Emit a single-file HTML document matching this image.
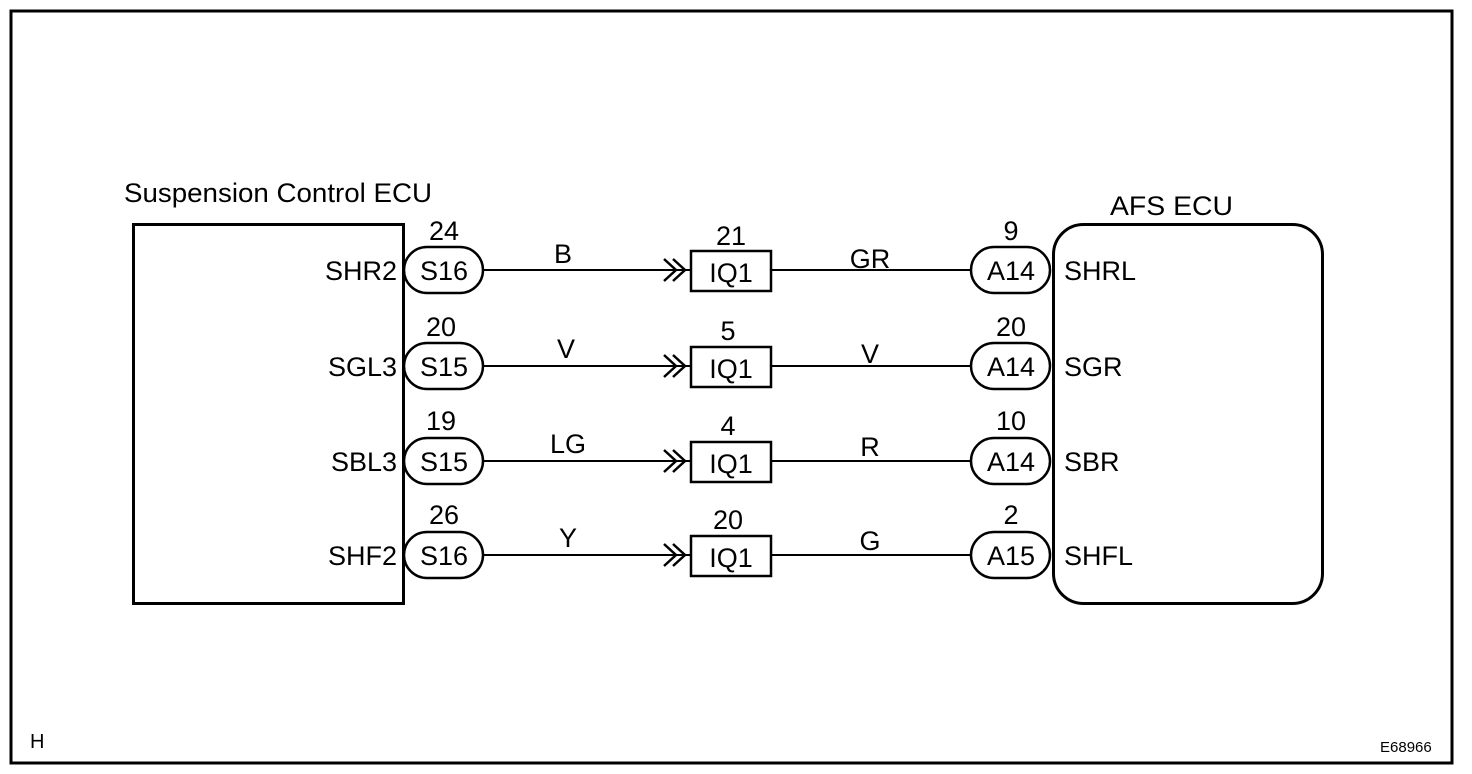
<!DOCTYPE html>
<html><head><style>body{margin:0;background:#fff}svg{display:block}text{font-family:"Liberation Sans",Arial,sans-serif;fill:#000}</style></head>
<body>
<svg width="1472" height="774" viewBox="0 0 1472 774" xmlns="http://www.w3.org/2000/svg">
<rect x="11" y="11" width="1441" height="752" fill="none" stroke="#000" stroke-width="3"/>
<text x="124" y="202" font-size="27" textLength="308" lengthAdjust="spacingAndGlyphs">Suspension Control ECU</text>
<text x="1110" y="215" font-size="27" textLength="123" lengthAdjust="spacingAndGlyphs">AFS ECU</text>
<rect x="133.5" y="224.5" width="270" height="379" fill="none" stroke="#000" stroke-width="3"/>
<rect x="1053.5" y="224.5" width="269" height="379" rx="30" fill="none" stroke="#000" stroke-width="3"/>
<g stroke="#000" fill="none" stroke-width="2">
<path d="M483 270H690M483 366H690M483 461H690M483 555H690"/>
<path d="M771 270H972M771 366H972M771 461H972M771 555H972"/>
<path stroke-width="2.5" d="M664 259l12 11l-12 11M673 259l12 11l-12 11M664 355l12 11l-12 11M673 355l12 11l-12 11M664 450l12 11l-12 11M673 450l12 11l-12 11M664 544l12 11l-12 11M673 544l12 11l-12 11"/>
</g>
<g stroke="#000" fill="#fff" stroke-width="2.5">
<rect x="404" y="247" width="79" height="46" rx="23"/>
<rect x="404" y="343" width="79" height="46" rx="23"/>
<rect x="404" y="438" width="79" height="46" rx="23"/>
<rect x="404" y="532" width="79" height="46" rx="23"/>
<rect x="971" y="247" width="79" height="46" rx="23"/>
<rect x="971" y="343" width="79" height="46" rx="23"/>
<rect x="971" y="438" width="79" height="46" rx="23"/>
<rect x="971" y="532" width="79" height="46" rx="23"/>
<rect x="691" y="251" width="80" height="40"/>
<rect x="691" y="347" width="80" height="40"/>
<rect x="691" y="442" width="80" height="40"/>
<rect x="691" y="536" width="80" height="40"/>
</g>
<g font-size="27" text-anchor="middle">
<text x="444" y="280">S16</text><text x="444" y="376">S15</text><text x="444" y="471">S15</text><text x="444" y="565">S16</text>
<text x="1011" y="280">A14</text><text x="1011" y="376">A14</text><text x="1011" y="471">A14</text><text x="1011" y="565">A15</text>
<text x="731" y="282">IQ1</text><text x="731" y="378">IQ1</text><text x="731" y="473">IQ1</text><text x="731" y="567">IQ1</text>
<text x="444" y="240">24</text><text x="441" y="336">20</text><text x="441" y="430">19</text><text x="444" y="524">26</text>
<text x="1011" y="240">9</text><text x="1011" y="336">20</text><text x="1011" y="430">10</text><text x="1011" y="524">2</text>
<text x="731" y="245">21</text><text x="728" y="340">5</text><text x="728" y="435">4</text><text x="728" y="529">20</text>
<text x="563" y="263">B</text><text x="566" y="358">V</text><text x="568" y="453">LG</text><text x="568" y="547">Y</text>
<text x="870" y="268">GR</text><text x="870" y="363">V</text><text x="870" y="456">R</text><text x="870" y="550">G</text>
</g>
<g font-size="27" text-anchor="end">
<text x="397" y="280">SHR2</text><text x="397" y="376">SGL3</text><text x="397" y="471">SBL3</text><text x="397" y="565">SHF2</text>
</g>
<g font-size="27">
<text x="1064" y="280">SHRL</text><text x="1064" y="376">SGR</text><text x="1064" y="471">SBR</text><text x="1064" y="565">SHFL</text>
</g>
<text x="30" y="748" font-size="20">H</text>
<text x="1380" y="752" font-size="15">E68966</text>
</svg>
</body></html>
